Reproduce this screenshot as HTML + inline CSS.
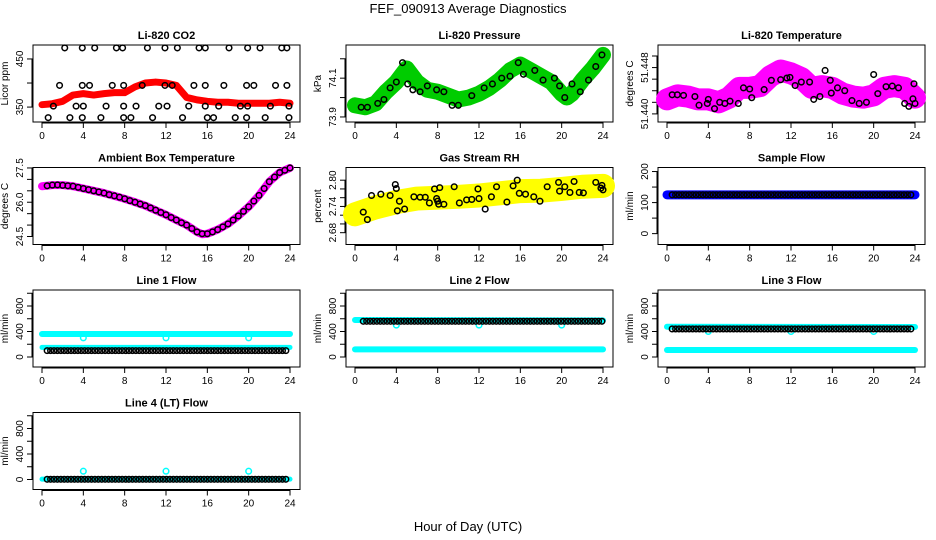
<!DOCTYPE html>
<html><head><meta charset="utf-8"><style>
body{margin:0;background:#fff;}
svg{display:block;font-family:"Liberation Sans",sans-serif;}
</style></head><body>
<svg id="c" width="936" height="540" viewBox="0 0 936 540" xmlns="http://www.w3.org/2000/svg">
<text x="468" y="13" text-anchor="middle" font-size="13">FEF_090913  Average Diagnostics</text>
<text x="468" y="531" text-anchor="middle" font-size="13">Hour of Day (UTC)</text>
</svg>
<script>
const xTicks=[0,4,8,12,16,20,24];
const co2Band=[[0,355],[1,357],[2,362],[3,375],[4,378],[5,375],[6,378],[7,380],[8,380],[9,392],[10,400],[11,402],[12,400],[13,395],[14,370],[15,365],[16,362],[17,360],[18,360],[19,358],[20,358],[21,358],[22,358],[23,360],[24,358]];
const co2Black=[[2.2,473],[3.9,473],[5.1,473],[7.2,473],[7.8,473],[10.2,473],[11.9,473],[13.1,473],[15.2,473],[15.8,473],[18.1,473],[19.9,473],[21.1,473],[23.2,473],[23.7,473],
[1.7,395],[3.9,395],[4.6,395],[6.8,395],[7.9,395],[9.7,395],[11.9,395],[12.6,395],[14.7,395],[15.8,395],[17.6,395],[19.8,395],[20.5,395],[22.6,395],[23.7,395],
[1.1,352],[3.3,352],[4,352],[6.2,352],[7.9,352],[9.1,352],[11.3,352],[12.1,352],[14.2,352],[15.8,352],[17.1,352],[19.2,352],[19.9,352],[22.1,352],[23.9,352],
[0.6,328],[2.7,328],[3.9,328],[5.7,328],[7.9,328],[8.6,328],[10.7,328],[13.6,328],[16,328],[16.6,328],[18.7,328],[19.8,328],[21.6,328],[23.9,328]];
const presBand=[[0,73.96],[1,73.95],[2,73.97],[3,74.03],[4,74.08],[5,74.15],[6,74.08],[7,74.04],[8,74.03],[9,74.01],[10,73.99],[11,74.0],[12,74.02],[13,74.05],[14,74.09],[15,74.14],[16,74.17],[17,74.14],[18,74.11],[19,74.08],[20,74.02],[20.5,74.0],[21,74.02],[22,74.09],[23,74.15],[24,74.22]];
const presBlack=[[0.6,73.95],[1.2,73.95],[2.2,73.97],[2.8,73.99],[3.4,74.05],[4,74.08],[4.6,74.18],[5.1,74.07],[5.6,74.04],[6.3,74.03],[7,74.06],[7.9,74.04],[8.6,74.03],[9.4,73.96],[10,73.96],[11.3,74.01],[12.5,74.05],[13.3,74.07],[14.2,74.1],[15,74.11],[15.8,74.18],[16.3,74.12],[17.4,74.14],[18.2,74.09],[19.3,74.1],[19.8,74.06],[20.3,74.0],[21,74.07],[21.8,74.03],[22.6,74.09],[23.3,74.16],[23.9,74.22]];
const tempBand=[[0,51.4425],[1,51.4432],[2,51.443],[3,51.4425],[4,51.4425],[5,51.442],[6,51.4428],[7,51.4445],[8,51.4445],[9,51.4448],[10,51.4465],[11,51.4475],[12,51.447],[13,51.4462],[14,51.4445],[15,51.4448],[16,51.4445],[17,51.4435],[18,51.443],[19,51.4428],[20,51.4432],[21,51.4445],[22,51.4448],[23,51.4445],[24,51.4428]];
const tempBlack=[[0.5,51.4433],[1,51.4433],[1.6,51.4432],[2.7,51.443],[3.1,51.4415],[3.9,51.4418],[4,51.4425],[4.6,51.4409],[5.1,51.442],[5.6,51.4418],[6.1,51.4422],[6.9,51.4418],[7.4,51.4445],[8,51.4443],[8.2,51.4428],[9.4,51.4442],[10.1,51.4458],[11,51.4459],[11.6,51.4462],[11.9,51.4463],[12.4,51.4449],[13,51.4455],[13.8,51.4455],[14.2,51.4425],[14.8,51.443],[15.3,51.4475],[15.8,51.4458],[15.9,51.4436],[16.5,51.4445],[17.2,51.444],[17.9,51.4423],[18.6,51.4418],[19.3,51.442],[20,51.4468],[20.4,51.4435],[21.2,51.4447],[21.8,51.4448],[22.4,51.4445],[23,51.4418],[23.4,51.4413],[23.8,51.4426],[24,51.4418],[23.9,51.4452]];
const ambBand=[[0,26.7],[1,26.75],[2,26.75],[3,26.7],[4,26.6],[5,26.5],[6,26.4],[7,26.28],[8,26.15],[9,26.0],[10,25.85],[11,25.65],[12,25.45],[13,25.22],[14,25.0],[15,24.7],[15.5,24.6],[16,24.62],[17,24.8],[18,25.05],[19,25.4],[20,25.8],[21,26.3],[22,26.9],[23,27.3],[24,27.5]];
const ambBlack=[[0.5,26.72],[1,26.75],[1.5,26.76],[2,26.74],[2.5,26.72],[3,26.7],[3.5,26.65],[4,26.6],[4.5,26.55],[5,26.5],[5.5,26.45],[6,26.4],[6.5,26.33],[7,26.28],[7.5,26.22],[8,26.15],[8.5,26.07],[9,26.0],[9.5,25.92],[10,25.85],[10.5,25.75],[11,25.65],[11.5,25.55],[12,25.45],[12.5,25.33],[13,25.22],[13.5,25.1],[14,25.0],[14.5,24.85],[15,24.7],[15.5,24.62],[16,24.62],[16.5,24.7],[17,24.8],[17.5,24.92],[18,25.05],[18.5,25.22],[19,25.4],[19.5,25.6],[20,25.8],[20.5,26.05],[21,26.3],[21.5,26.6],[22,26.9],[22.5,27.1],[23,27.3],[23.5,27.4],[24,27.5]];
const rhBand=[[0,2.722],[2,2.738],[4,2.75],[6,2.758],[8,2.76],[10,2.762],[12,2.765],[14,2.77],[16,2.775],[18,2.776],[20,2.78],[22,2.785],[24,2.787]];
const rhBlack=[[0.8,2.727],[1.2,2.71],[1.6,2.765],[2.5,2.768],[3.4,2.765],[3.9,2.79],[4,2.781],[4.1,2.73],[4.3,2.752],[4.8,2.734],[5.7,2.762],[6.3,2.761],[6.8,2.761],[7.2,2.748],[7.7,2.78],[7.9,2.758],[8,2.752],[8.1,2.745],[8.2,2.783],[8.6,2.745],[9.6,2.785],[10.1,2.748],[10.8,2.755],[11.3,2.756],[11.9,2.78],[12,2.758],[12.6,2.734],[13.2,2.762],[13.7,2.785],[14.7,2.75],[15.3,2.787],[15.7,2.8],[15.9,2.77],[16.5,2.768],[17.3,2.762],[17.9,2.752],[18.6,2.785],[19.7,2.795],[19.8,2.775],[20.3,2.785],[20.8,2.772],[21.2,2.797],[21.7,2.772],[22.1,2.771],[23.3,2.795],[23.9,2.788],[24,2.778],[23.8,2.782]];
const sampleBand=[[0,125],[24,125]];
const l1Cyan=[[0,360],[24,360]];
const l1CyanLow=[[0,150],[24,150]];
const l1Black=[[0.5,100],[23.9,100]];
const l2Cyan=[[0,580],[24,575]];
const l2CyanLow=[[0,120],[24,120]];
const l2Black=[[0.8,560],[23.9,560]];
const l3Cyan=[[0,475],[24,470]];
const l3CyanLow=[[0,110],[24,110]];
const l3Black=[[0.5,440],[23.9,440]];
const l4Cyan=[[0,5],[24,5]];
const l4Black=[[0.5,3],[23.9,3]];
const dipHours=[4,12,20];

const NS="http://www.w3.org/2000/svg";
const svg=document.getElementById('c');
const L=[33,346,658],T=[45,167.5,290,412.5],W=267,H=77;
function mk(tag,a,parent){const e=document.createElementNS(NS,tag);for(const k in a)e.setAttribute(k,a[k]);(parent||svg).appendChild(e);return e;}
function panel(col,row,name,title,ylab,lo,hi,yt,yl,fmt){
  const g=mk('g',{});
  
  
  const x0=L[col],y0=T[row];
  const xs=h=>x0+9+h*(248/24);
  const ys=v=>y0+H-(v-lo)/(hi-lo)*H;
  const t=mk('text',{x:x0+W/2,y:y0-6,'text-anchor':'middle','font-size':11,'font-weight':'bold'},g);
  t.textContent=title;
  
  
  const b=mk('rect',{x:x0,y:y0,width:W,height:H,fill:'none',stroke:'#000','stroke-width':1},g);
  
  
  const xa=mk('g',{},g);
  
  
  mk('line',{x1:xs(0),x2:xs(24),y1:y0+H+1,y2:y0+H+1,stroke:'#000'},xa);
  xTicks.forEach(h=>{mk('line',{x1:xs(h),x2:xs(h),y1:y0+H,y2:y0+H+6,stroke:'#000'},xa);
    const tl=mk('text',{x:xs(h),y:y0+H+17,'text-anchor':'middle','font-size':10},xa);tl.textContent=h;});
  const ya=mk('g',{},g);
  
  
  mk('line',{x1:x0-1,x2:x0-1,y1:ys(yt[0]),y2:ys(yt[yt.length-1]),stroke:'#000'},ya);
  yt.forEach(v=>mk('line',{x1:x0-6,x2:x0,y1:ys(v),y2:ys(v),stroke:'#000'},ya));
  yl.forEach(v=>{const yy=ys(v);const tl=mk('text',{x:x0-10,y:yy,'text-anchor':'middle','font-size':10,transform:`rotate(-90 ${x0-10} ${yy})`},ya);tl.textContent=fmt(v);});
  const yc=y0+H/2;
  const yt2=mk('text',{x:x0-25,y:yc,'text-anchor':'middle','font-size':10,transform:`rotate(-90 ${x0-25} ${yc})`},g);
  yt2.textContent=ylab;
  
  
  return {g,xs,ys};
}
function band(p,data,color,w,name){
  const e=mk('polyline',{points:data.map(d=>p.xs(d[0])+','+p.ys(d[1])).join(' '),fill:'none',stroke:color,'stroke-width':w,'stroke-linejoin':'round','stroke-linecap':'round'},p.g);
  
  
}
function pts(p,data,color,name){
  const g=mk('g',{},p.g);
  
  
  data.forEach(d=>mk('circle',{cx:p.xs(d[0]),cy:p.ys(d[1]),r:2.8,fill:'none',stroke:color,'stroke-width':1.5},g));
}
function flatPts(p,data,color,name,step){
  const g=mk('g',{},p.g);
  
  
  for(let h=data[0][0];h<=data[1][0]+1e-6;h+=step){
    mk('circle',{cx:p.xs(h),cy:p.ys(data[0][1]),r:2.8,fill:'none',stroke:color,'stroke-width':1.5},g);}
}
const f0=v=>String(v), f1=v=>v.toFixed(1), f2=v=>v.toFixed(2), f3=v=>v.toFixed(3);
let p;
p=panel(0,0,'panel-co2','Li-820 CO2','Licor ppm',319,479,[350,400,450],[350,450],f0);
band(p,co2Band,'#ff0000',7,'co2-band');pts(p,co2Black,'#000','co2-points');
p=panel(1,0,'panel-pressure','Li-820 Pressure','kPa',73.874,74.271,[73.9,74.0,74.1,74.2],[73.9,74.1],f1);
band(p,presBand,'#00cc00',16,'pressure-band');pts(p,presBlack,'#000','pressure-points');
p=panel(2,0,'panel-li820-temp','Li-820 Temperature','degrees C',51.4386,51.4519,[51.440,51.442,51.444,51.446,51.448,51.450],[51.440,51.448],f3);
band(p,tempBand,'#ff00ff',22,'temp-band');pts(p,tempBlack,'#000','temp-points');
p=panel(0,1,'panel-ambient','Ambient Box Temperature','degrees C',24.15,27.52,[24.5,25,25.5,26,26.5,27,27.5],[24.5,26.0,27.5],f1);
band(p,ambBand,'#ff00ff',8,'ambient-band');pts(p,ambBlack,'#000','ambient-points');
p=panel(1,1,'panel-rh','Gas Stream RH','percent',2.653,2.829,[2.68,2.70,2.72,2.74,2.76,2.78,2.80],[2.68,2.74,2.80],f2);
band(p,rhBand,'#ffff00',24,'rh-band');pts(p,rhBlack,'#000','rh-points');
p=panel(2,1,'panel-sample-flow','Sample Flow','ml/min',-35,213,[0,50,100,150,200],[0,100,200],f0);
band(p,sampleBand,'#0000ff',9,'sample-band');flatPts(p,[[0.5,125],[23.9,125]],'#000','sample-points',0.33);
const flowT=[0,200,400,600,800,1000],flowL=[0,400,800];
p=panel(0,2,'panel-line1','Line 1 Flow','ml/min',-157,1051,flowT,flowL,f0);
band(p,l1Cyan,'#00ffff',6,'line1-cyan-band');band(p,l1CyanLow,'#00ffff',5,'line1-cyan-low');
pts(p,dipHours.map(h=>[h,300]),'#00ffff','line1-dips');flatPts(p,l1Black,'#000','line1-points',0.33);
p=panel(1,2,'panel-line2','Line 2 Flow','ml/min',-157,1051,flowT,flowL,f0);
band(p,l2Cyan,'#00ffff',6,'line2-cyan-band');band(p,l2CyanLow,'#00ffff',6,'line2-cyan-low');
pts(p,dipHours.map(h=>[h,500]),'#00ffff','line2-dips');flatPts(p,l2Black,'#000','line2-points',0.33);
p=panel(2,2,'panel-line3','Line 3 Flow','ml/min',-157,1051,flowT,flowL,f0);
band(p,l3Cyan,'#00ffff',6,'line3-cyan-band');band(p,l3CyanLow,'#00ffff',6,'line3-cyan-low');
pts(p,dipHours.map(h=>[h,400]),'#00ffff','line3-dips');flatPts(p,l3Black,'#000','line3-points',0.33);
p=panel(0,3,'panel-line4','Line 4 (LT) Flow','ml/min',-157,1051,flowT,flowL,f0);
band(p,l4Cyan,'#00ffff',5,'line4-cyan-band');
pts(p,dipHours.map(h=>[h,130]),'#00ffff','line4-spikes');flatPts(p,l4Black,'#000','line4-points',0.33);
</script>
</body></html>
